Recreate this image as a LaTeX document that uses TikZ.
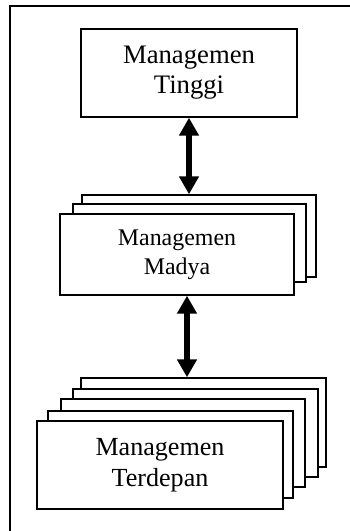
\documentclass[tikz,border=0pt]{standalone}
\usepackage{fontspec}
\setmainfont{Liberation Serif}
\usetikzlibrary{arrows.meta}
\begin{document}
\begin{tikzpicture}[x=1pt,y=-1pt,
  box/.style={draw=black,line width=1.4pt,fill=white,inner sep=0pt,align=center},
  bigtext/.style={font=\fontsize{26.7}{30}\selectfont},
  midtext/.style={font=\fontsize{23.9}{29}\selectfont},
  lowtext/.style={font=\fontsize{26.1}{31}\selectfont},
  link/.style={line width=6pt,{Triangle[width=19pt,length=18pt]}-{Triangle[width=19pt,length=18pt]}}]
\useasboundingbox (0,0) rectangle (350,531);
% open frame: only the top and left edges
\draw[line width=1.4pt] (10,531) -- (10,6) -- (350,6);

% top level
\node[box,bigtext,minimum width=216pt,minimum height=88pt] (top) at (189,73) {Managemen\\Tinggi};

% middle level, three stacked sheets
\node[box,minimum width=234pt,minimum height=82pt] (m3) at (199,236) {};
\node[box,minimum width=233pt,minimum height=78pt] (m2) at (189.5,243) {};
\node[box,midtext,minimum width=234pt,minimum height=81pt] (m1) at (177,254.5) {Managemen\\Madya};

% lower level, five stacked sheets
\node[box,minimum width=245pt,minimum height=89pt] (t5) at (203.5,422.5) {};
\node[box,minimum width=245pt,minimum height=88pt] (t4) at (195.5,433) {};
\node[box,minimum width=244pt,minimum height=88pt] (t3) at (183,443) {};
\node[box,minimum width=245pt,minimum height=87pt] (t2) at (170.5,454.5) {};
\node[box,lowtext,minimum width=246pt,minimum height=88pt] (t1) at (160,465) {Managemen\\Terdepan};

% two-way links between levels
\draw[link] (top.south) -- (top.south |- m3.north);
\draw[link] ([xshift=10pt]m1.south) -- ([xshift=10pt]m1.south |- t5.north);
\end{tikzpicture}
\end{document}
